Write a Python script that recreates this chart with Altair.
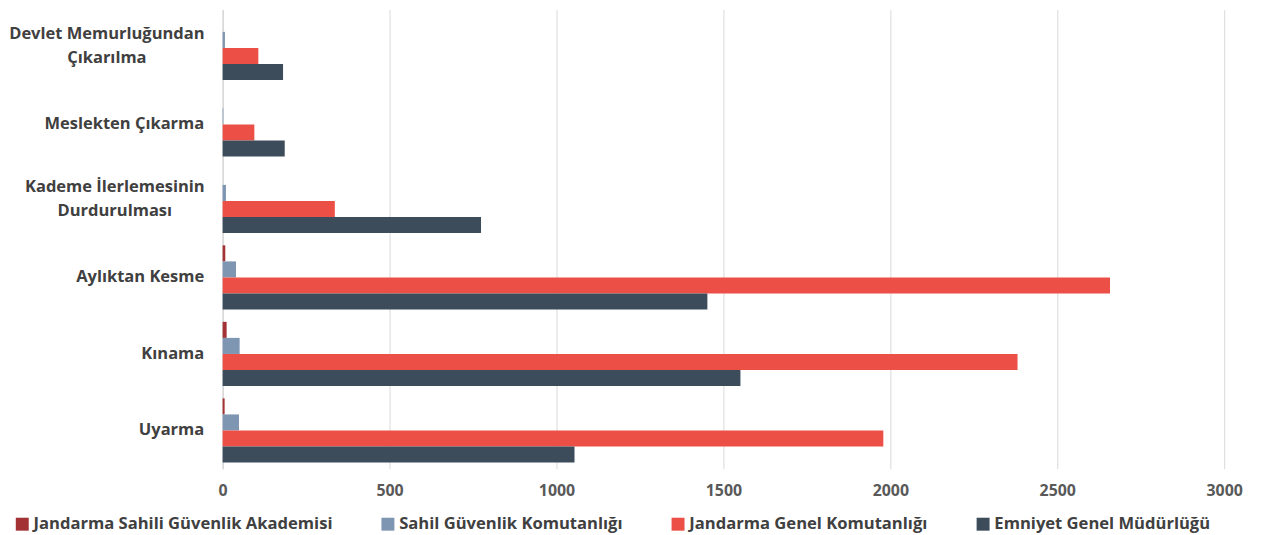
import altair as alt
import pandas as pd

categories = [
    "Devlet Memurluğundan\nÇıkarılma",
    "Meslekten Çıkarma",
    "Kademe İlerlemesinin\nDurdurulması",
    "Aylıktan Kesme",
    "Kınama",
    "Uyarma",
]
series = [
    "Jandarma Sahili Güvenlik Akademisi",
    "Sahil Güvenlik Komutanlığı",
    "Jandarma Genel Komutanlığı",
    "Emniyet Genel Müdürlüğü",
]
akademi = [0, 0, 0, 8, 12, 6]
sahil = [7, 2, 10, 40, 51, 49]
jandarma = [107, 95, 336, 2658, 2381, 1979]
emniyet = [181, 186, 774, 1452, 1551, 1054]
ticks = [0, 500, 1000, 1500, 2000, 2500, 3000]
colors = ["#A33234", "#7F96B2", "#EC4F46", "#3D4C5A"]

rows = []
for i, c in enumerate(categories):
    for s, vals in zip(series, [akademi, sahil, jandarma, emniyet]):
        rows.append({"cat": c, "series": s, "value": vals[i]})
df = pd.DataFrame(rows)

FONT = "Open Sans"
MULTI = "indexof(datum.value, '\\n') >= 0"
DEVLET = "indexof(datum.value, 'Devlet') >= 0"

chart = alt.Chart(df).mark_bar().encode(
    y=alt.Y(
        "cat:N",
        sort=categories,
        title=None,
        scale=alt.Scale(paddingInner=0.16, paddingOuter=0.08),
        axis=alt.Axis(
            labelExpr="split(datum.label, '\\n')",
            labelFont=FONT,
            labelFontSize=16.6,
            labelFontWeight="bold",
            labelColor="#404040",
            labelAlign={"condition": {"test": MULTI, "value": "center"}, "value": "right"},
            labelPadding={
                "condition": [
                    {"test": DEVLET, "value": 117},
                    {"test": MULTI, "value": 109},
                ],
                "value": 19,
            },
            labelOffset={"condition": {"test": MULTI, "value": -14}, "value": 0},
            labelLimit=400,
            labelLineHeight=24,
            ticks=False,
            domain=True,
            domainColor="#D0D0D0",
            grid=False,
        ),
    ),
    yOffset=alt.YOffset("series:N", sort=series, scale=alt.Scale(paddingInner=0, paddingOuter=0)),
    x=alt.X(
        "value:Q",
        title=None,
        scale=alt.Scale(domain=[0, 3000], nice=False),
        axis=alt.Axis(
            values=ticks,
            format="d",
            labelFlush=False,
            labelFont=FONT,
            labelFontSize=16,
            labelFontWeight="bold",
            labelColor="#595959",
            labelPadding=14,
            ticks=False,
            domain=False,
            grid=True,
            gridColor="#D9D9D9",
        ),
    ),
    color=alt.Color(
        "series:N",
        sort=series,
        scale=alt.Scale(domain=series, range=colors),
        legend=alt.Legend(
            title=None,
            orient="none",
            legendX=-210,
            legendY=509,
            direction="horizontal",
            columns=4,
            columnPadding=47,
            symbolType="square",
            symbolSize=170,
            symbolStrokeWidth=0,
            labelOffset=3,
            labelFont=FONT,
            labelFontSize=16.7,
            labelFontWeight="bold",
            labelColor="#404040",
            labelLimit=400,
        ),
    ),
).properties(
    width=1008,
    height=462,
    autosize=alt.AutoSizeParams(type="none"),
    padding={"left": 216, "top": 0, "right": 30, "bottom": 64},
).configure_view(strokeWidth=0)

chart.save("out.html", embed_options={"renderer": "svg", "actions": False})
